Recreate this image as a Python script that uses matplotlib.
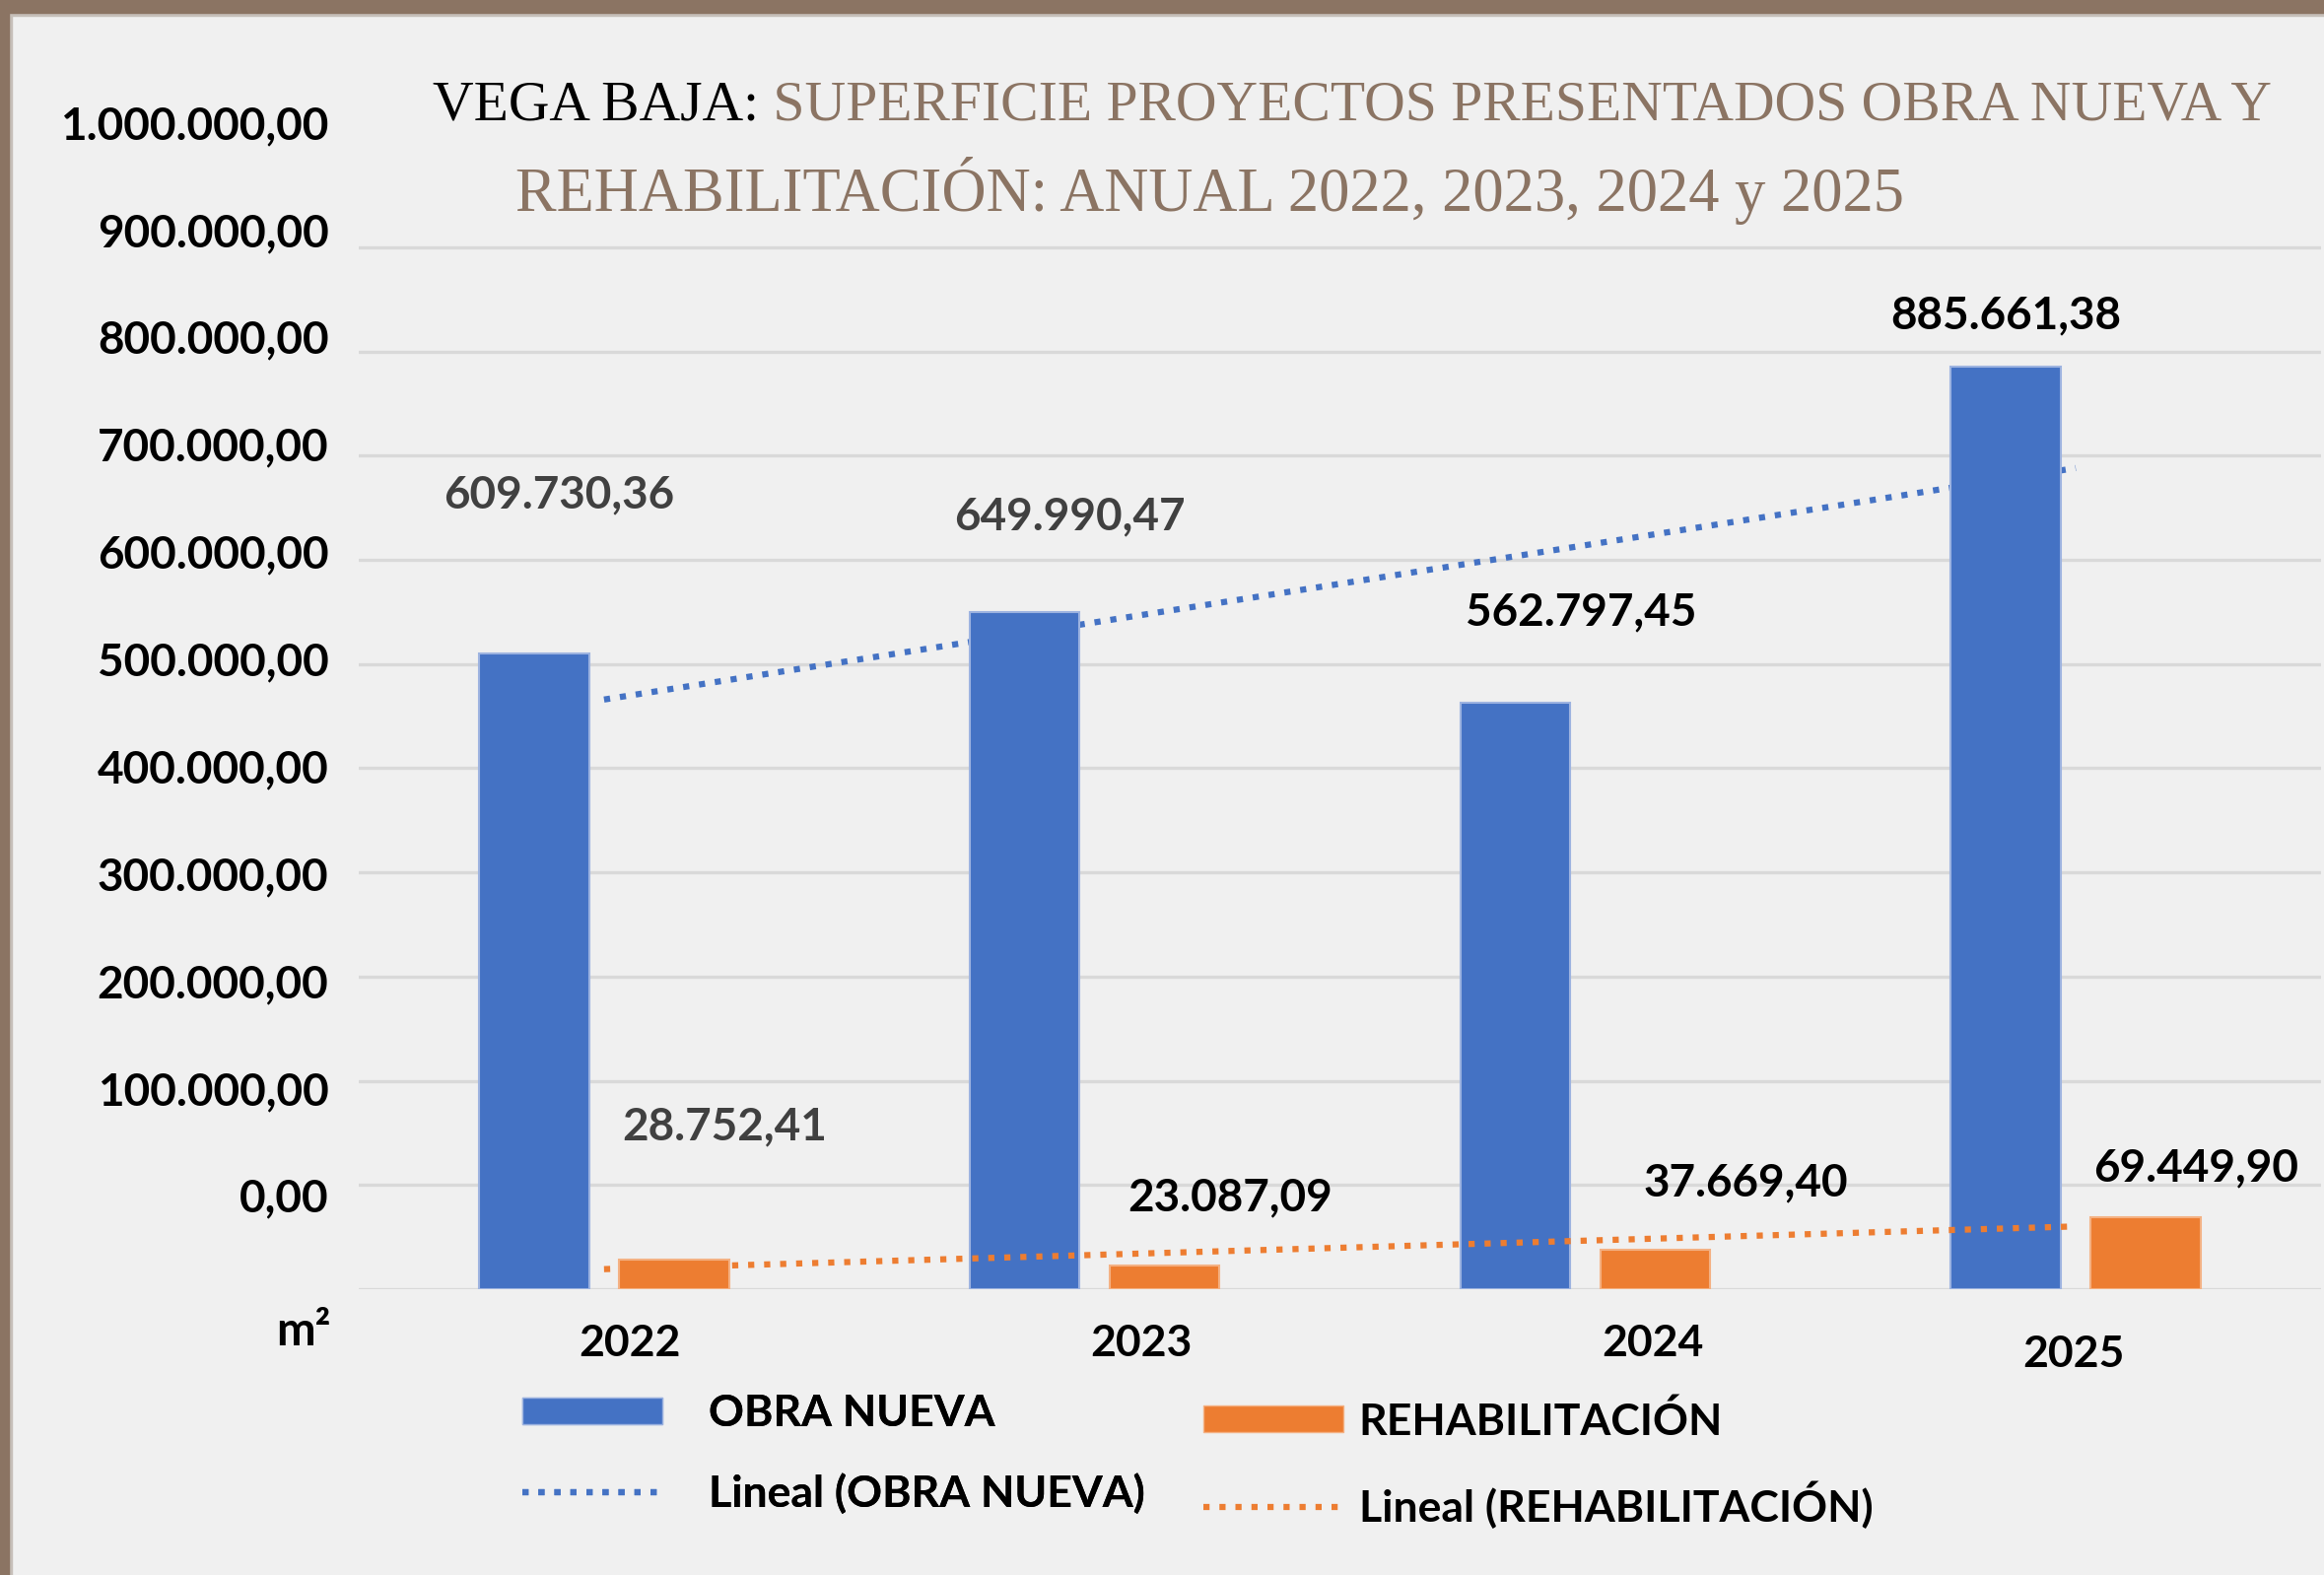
import matplotlib.pyplot as plt
import numpy as np
from matplotlib.patches import Patch, Rectangle
from matplotlib.lines import Line2D

plt.rcParams.update({'font.family': ['Lato', 'DejaVu Sans']})
plt.rcParams.update({'font.weight': 'bold'})

# data
years = ['2022', '2023', '2024', '2025']
obra_nueva = [609730.36, 649990.47, 562797.45, 885661.38]
rehabilitacion = [28752.41, 23087.09, 37669.40, 69449.90]
obra_labels = ['609.730,36', '649.990,47', '562.797,45', '885.661,38']
rehab_labels = ['28.752,41', '23.087,09', '37.669,40', '69.449,90']
ytick_labels = ['0,00', '100.000,00', '200.000,00', '300.000,00', '400.000,00',
                '500.000,00', '600.000,00', '700.000,00', '800.000,00',
                '900.000,00', '1.000.000,00']

# hand placed label positions (x in category units, y in data units)
obra_label_pos = [(-0.092, 762000), (0.950, 741000), (1.992, 650000), (2.857, 934000)]
rehab_label_pos = [(0.246, 156000), (1.276, 88000), (2.328, 102000), (3.246, 116000)]
obra_label_col = ['#404040', '#404040', 'black', 'black']
rehab_label_col = ['#404040', 'black', 'black', 'black']
year_label_pos = [(0.053, -52500), (1.095, -52500), (2.137, -52500), (2.995, -62500)]

blue = '#4472C4'
orange = '#ED7D31'
brown = '#8B7463'
bg = '#F0F0F0'

fig = plt.figure(figsize=(23.58, 15.98), dpi=100, facecolor=bg)
ax = fig.add_axes([364 / 2358, 290 / 1598, 1991 / 2358, 1215.6 / 1598])
ax.set_facecolor('none')

x = np.arange(len(years))
w = 0.224
off = 0.1425

ax.bar(x - off, obra_nueva, w, color=blue, edgecolor='#9DB3E0', linewidth=1.5, zorder=2)
ax.bar(x + off, rehabilitacion, w, color=orange, edgecolor='#F4B183', linewidth=1.5, zorder=4)

# linear trendlines
p1 = np.polyfit(x, obra_nueva, 1)
p2 = np.polyfit(x, rehabilitacion, 1)
ax.plot(x, np.polyval(p1, x), color=blue, lw=4.5, dashes=(1, 1.6), zorder=1.5)
ax.plot(x, np.polyval(p2, x), color=orange, lw=4.5, dashes=(1, 1.6), zorder=3)

# gridlines
for g in np.arange(0, 1000001, 100000):
    ax.axhline(g, color='#D9D9D9', lw=2.4, zorder=0.5)

ax.set_xlim(-0.5, 3.5)
ax.set_ylim(0, 1150000)
for s in ax.spines.values():
    s.set_visible(False)
ax.set_xticks([])
ax.set_yticks(np.arange(len(ytick_labels)) * 103000 + 90000)
ax.set_yticklabels(ytick_labels, fontsize=33, fontweight='bold', color='black')
ax.tick_params(axis='y', length=0, pad=22)

for i in range(len(years)):
    xx, yy = obra_label_pos[i]
    ax.text(xx, yy, obra_labels[i], ha='center', va='center', fontsize=33,
            fontweight='bold', color=obra_label_col[i])
    xx, yy = rehab_label_pos[i]
    ax.text(xx, yy, rehab_labels[i], ha='center', va='center', fontsize=33,
            fontweight='bold', color=rehab_label_col[i], clip_on=False)
    xx, yy = year_label_pos[i]
    ax.text(xx, yy, years[i], ha='center', va='center', fontsize=32,
            fontweight='bold', color='black', clip_on=False)

fig.text(308 / 2358, 1 - 1351 / 1598, 'm²', ha='center', va='center',
         fontsize=34, fontweight='bold')

# title
t1 = fig.text(439 / 2358, 1 - 108 / 1598, 'VEGA BAJA:', ha='left', va='center',
              fontsize=41.5, family='Liberation Serif', fontweight='normal', color='black')
ax.annotate(' SUPERFICIE PROYECTOS PRESENTADOS OBRA NUEVA Y', xy=(1, 0), xycoords=t1,
            ha='left', va='bottom', fontsize=41.5, family='Liberation Serif',
            fontweight='normal', color=brown, annotation_clip=False)
fig.text(523 / 2358, 1 - 194 / 1598, 'REHABILITACIÓN: ANUAL 2022, 2023, 2024 y 2025',
         ha='left', va='center', fontsize=45, family='Liberation Serif',
         fontweight='normal', color=brown)

# legend, two columns
leg1 = fig.legend(handles=[Patch(facecolor=blue, edgecolor='#9DB3E0'),
                           Line2D([], [], color=blue, lw=4.5, dashes=(1, 1.6))],
                  labels=['OBRA NUEVA', 'Lineal (OBRA NUEVA)'],
                  loc='upper left', bbox_to_anchor=(530 / 2358, 1 - 1414 / 1598),
                  frameon=False, fontsize=32, handlelength=3.2, handleheight=0.55,
                  handletextpad=1.05, labelspacing=0.9, borderpad=0, borderaxespad=0)
fig.add_artist(leg1)
fig.legend(handles=[Patch(facecolor=orange, edgecolor='#F4B183'),
                    Line2D([], [], color=orange, lw=4.5, dashes=(1, 1.6))],
           labels=['REHABILITACIÓN', 'Lineal (REHABILITACIÓN)'],
           loc='upper left', bbox_to_anchor=(1221 / 2358, 1 - 1421 / 1598),
           frameon=False, fontsize=32, handlelength=3.2, handleheight=0.55,
           handletextpad=0.35, labelspacing=0.9, borderpad=0, borderaxespad=0)

# frame
fig.add_artist(Rectangle((0, 1 - 13 / 1598), 1, 13 / 1598, transform=fig.transFigure,
                         color=brown, zorder=10))
fig.add_artist(Rectangle((0, 1 - 16 / 1598), 1, 3 / 1598, transform=fig.transFigure,
                         color='#C6BFB9', zorder=9))
fig.add_artist(Rectangle((0, 0), 9 / 2358, 1, transform=fig.transFigure,
                         color=brown, zorder=10))
fig.add_artist(Rectangle((9 / 2358, 0), 3 / 2358, 1 - 13 / 1598, transform=fig.transFigure,
                         color='#C6BFB9', zorder=9))

fig.savefig('out.png', dpi=100, facecolor=bg)
